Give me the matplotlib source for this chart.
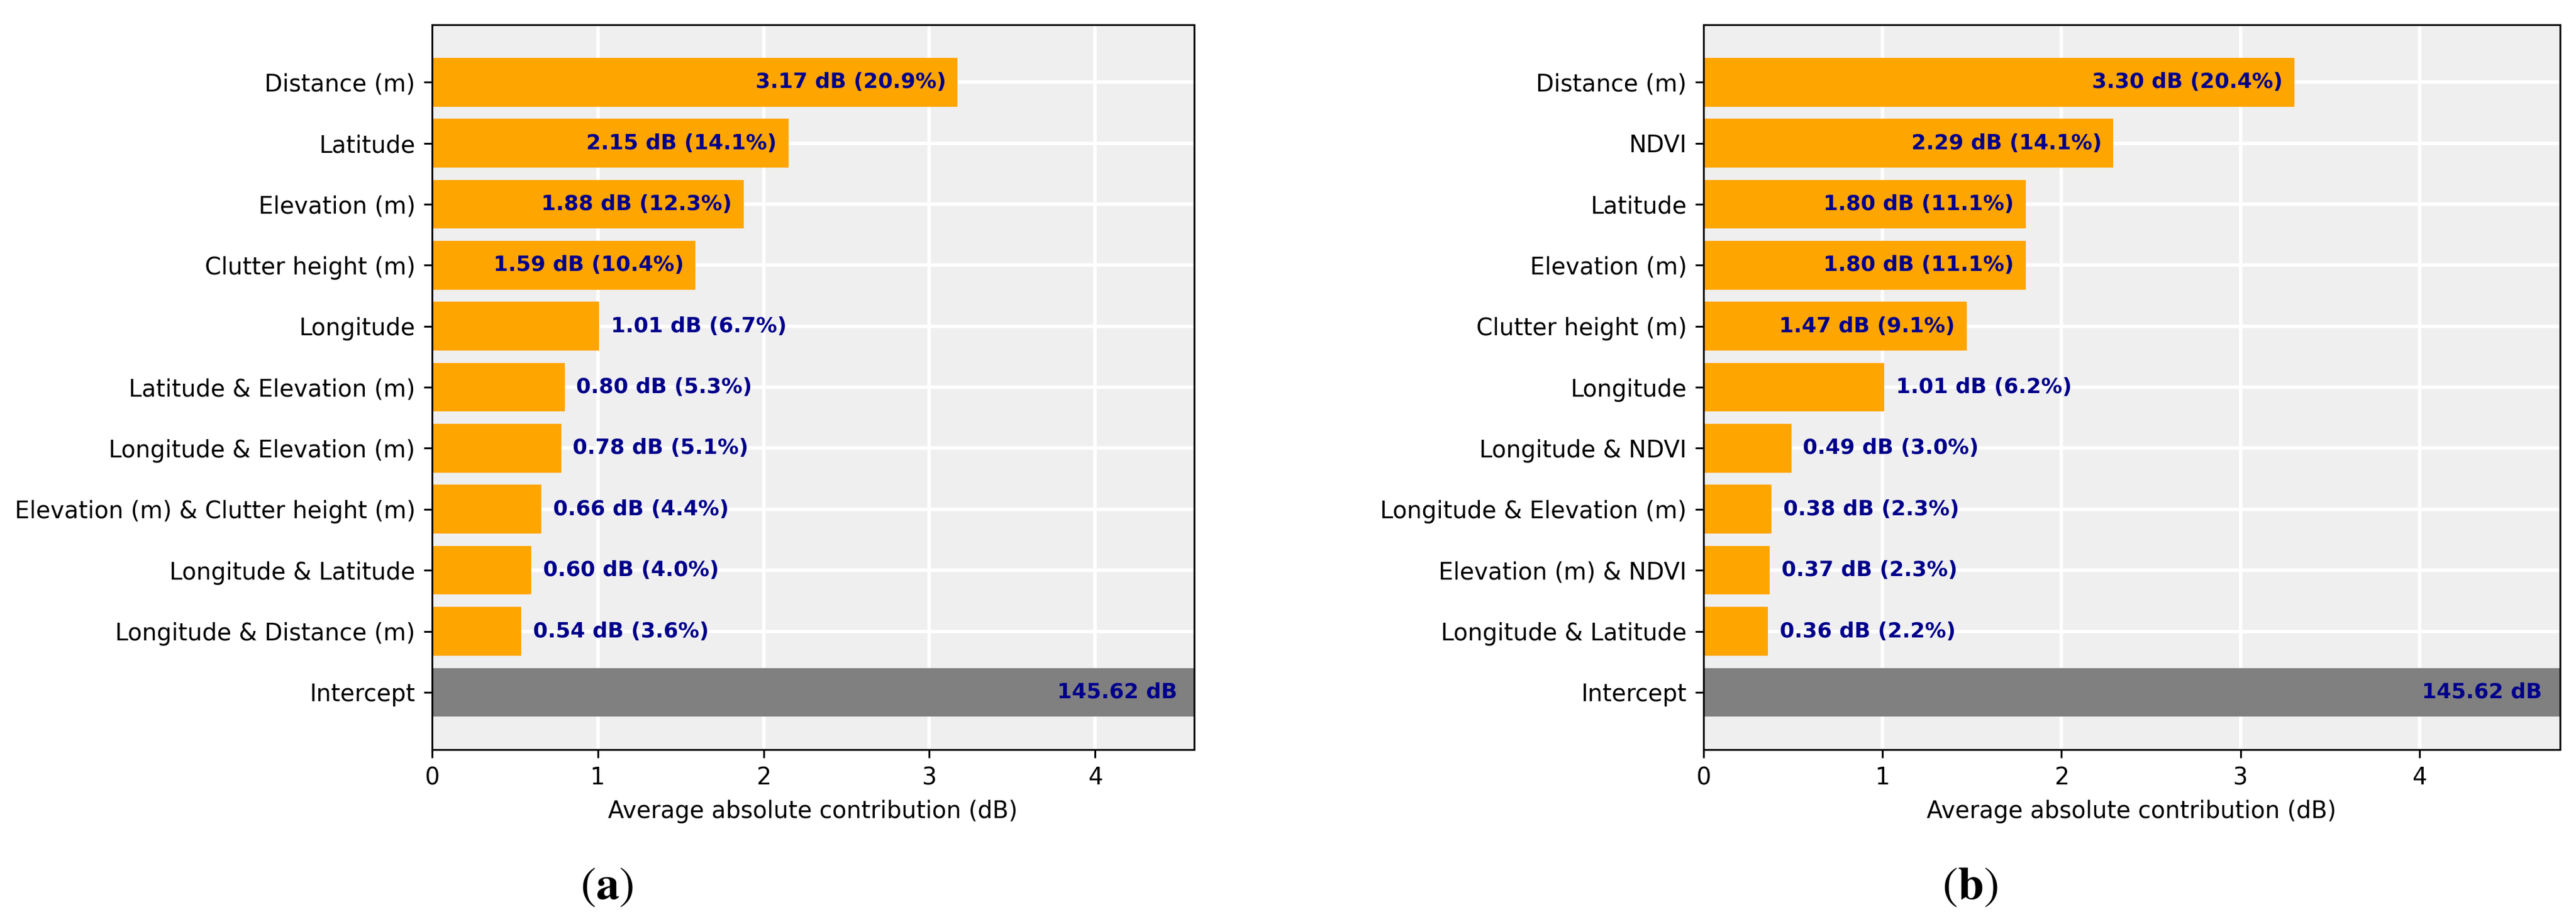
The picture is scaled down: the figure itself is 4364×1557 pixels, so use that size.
import matplotlib.pyplot as plt

# panel (a)
features_a = ['Distance (m)', 'Latitude', 'Elevation (m)', 'Clutter height (m)', 'Longitude',
              'Latitude & Elevation (m)', 'Longitude & Elevation (m)',
              'Elevation (m) & Clutter height (m)', 'Longitude & Latitude', 'Longitude & Distance (m)']
values_a = [3.17, 2.15, 1.88, 1.59, 1.01, 0.80, 0.78, 0.66, 0.60, 0.54]
pct_a = [20.9, 14.1, 12.3, 10.4, 6.7, 5.3, 5.1, 4.4, 4.0, 3.6]

# panel (b)
features_b = ['Distance (m)', 'NDVI', 'Latitude', 'Elevation (m)', 'Clutter height (m)', 'Longitude',
              'Longitude & NDVI', 'Longitude & Elevation (m)', 'Elevation (m) & NDVI', 'Longitude & Latitude']
values_b = [3.30, 2.29, 1.80, 1.80, 1.47, 1.01, 0.49, 0.38, 0.37, 0.36]
pct_b = [20.4, 14.1, 11.1, 11.1, 9.1, 6.2, 3.0, 2.3, 2.3, 2.2]

intercept = 145.62

plt.rcParams['font.family'] = 'DejaVu Sans'
plt.rcParams['font.size'] = 9.5
plt.rcParams['axes.linewidth'] = 0.75
plt.rcParams['xtick.major.width'] = 0.75
plt.rcParams['ytick.major.width'] = 0.75
plt.rcParams['xtick.major.size'] = 3.3
plt.rcParams['ytick.major.size'] = 3.3
plt.rcParams['mathtext.fontset'] = 'stix'

fig = plt.figure(figsize=(4364 / 300, 1557 / 300), dpi=300)
ax_a = fig.add_axes([0.1677, 0.1843, 0.2958, 0.7887])
ax_b = fig.add_axes([0.6613, 0.1843, 0.3325, 0.7887])


def draw_panel(ax, names, values, pct):
    xmax = max(values) * 1.45
    ax.set_facecolor('#efefef')
    ax.set_axisbelow(True)
    ax.grid(color='white', linewidth=1.4)
    ax.barh(['Intercept'], [intercept], height=0.8, color='#808080')
    ax.barh(names[::-1], values[::-1], height=0.8, color='#ffa500')
    for name, v, p in zip(names, values, pct):
        txt = f'{v:.2f} dB ({p:.1f}%)'
        if v > 0.4 * max(values):
            ax.annotate(txt, (v, name), xytext=(-4.7, 0), textcoords='offset points',
                        ha='right', va='center', fontsize=8.6, fontweight='bold', color='#00008b')
        else:
            ax.annotate(txt, (v, name), xytext=(4.7, 0), textcoords='offset points',
                        ha='left', va='center', fontsize=8.6, fontweight='bold', color='#00008b')
    ax.text(xmax - 0.1, 'Intercept', f'{intercept:.2f} dB', ha='right', va='center',
            fontsize=8.6, fontweight='bold', color='#00008b')
    ax.set_xlim(0, xmax)
    ax.set_xlabel('Average absolute contribution (dB)')


draw_panel(ax_a, features_a, values_a, pct_a)
draw_panel(ax_b, features_b, values_b, pct_b)

fig.text(1028 / 4364, 1 - 1501 / 1557, r'$(\mathbf{a})$', ha='center', va='center', fontsize=19)
fig.text(3337 / 4364, 1 - 1501 / 1557, r'$(\mathbf{b})$', ha='center', va='center', fontsize=19)

fig.savefig('out.png', dpi=300)
